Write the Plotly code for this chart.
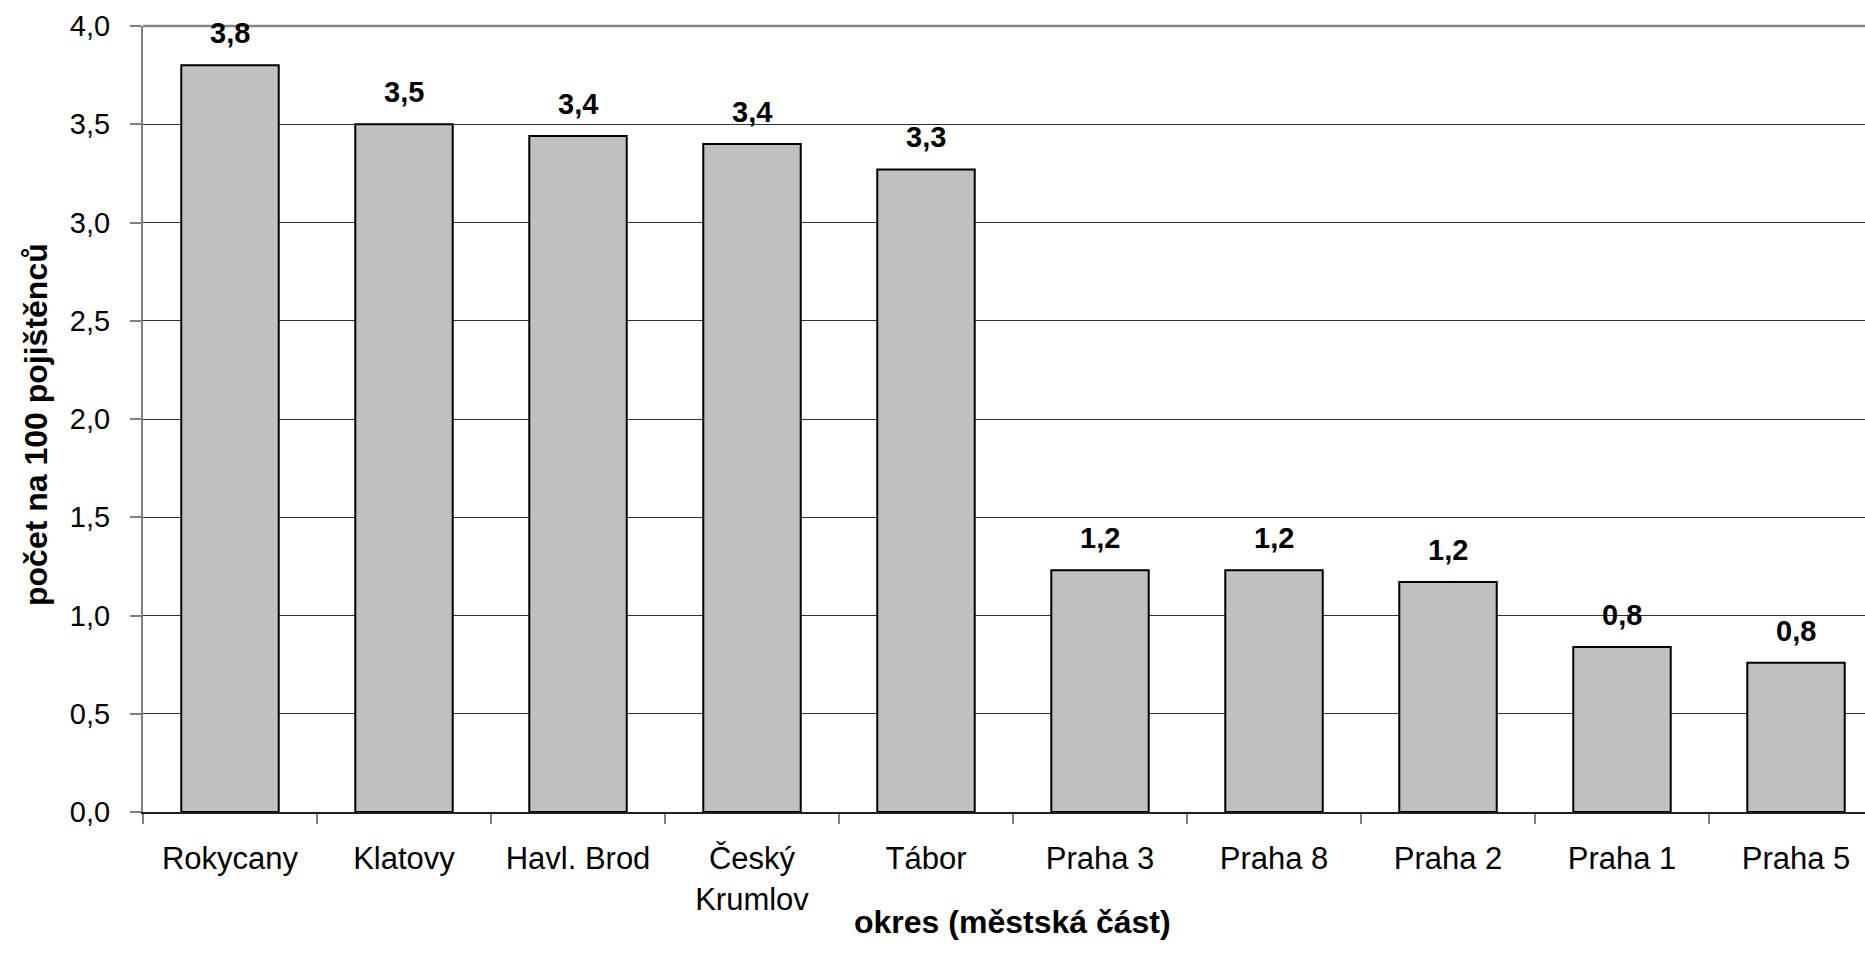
import plotly.graph_objects as go

# Districts (city parts) and rate per 100 insured persons
okresy = ["Rokycany", "Klatovy", "Havl. Brod", "Český<br>Krumlov", "Tábor",
          "Praha 3", "Praha 8", "Praha 2", "Praha 1", "Praha 5"]
pocet = [3.80, 3.50, 3.44, 3.40, 3.27, 1.23, 1.23, 1.17, 0.84, 0.76]

y_ticks = [0.0, 0.5, 1.0, 1.5, 2.0, 2.5, 3.0, 3.5, 4.0]

FONT = "Liberation Sans, Arial, sans-serif"

W, H = 1865, 973
M_L, M_R, M_T, M_B = 143, 0, 26, 161
CAT_PX = 174.0  # width of one category slot in pixels
plot_w = W - M_L - M_R
x_max = -0.5 + plot_w / CAT_PX

fig = go.Figure()
fig.add_trace(go.Bar(
    x=okresy, y=pocet, width=0.56,
    marker=dict(color="#C0C0C0", line=dict(color="#000000", width=2)),
    hoverinfo="skip",
))

# value labels above bars
for name, val in zip(okresy, pocet):
    fig.add_annotation(
        x=name, y=val, xref="x", yref="y",
        text=f"{val:.1f}".replace(".", ","),
        showarrow=False, yanchor="bottom", yshift=14,
        font=dict(family=FONT, size=29, color="#000000", weight="bold"),
    )

# axis titles
fig.add_annotation(
    x=(1013 - M_L) / plot_w, y=(812 - 922) / 786, xref="paper", yref="paper",
    text="okres (městská část)", showarrow=False,
    xanchor="center", yanchor="middle",
    font=dict(family=FONT, size=32, color="#000000", weight="bold"),
)
fig.add_annotation(
    x=(36 - M_L) / plot_w, y=(812 - 425) / 786, xref="paper", yref="paper",
    text="počet na 100 pojištěnců", showarrow=False, textangle=-90,
    xanchor="center", yanchor="middle",
    font=dict(family=FONT, size=32, color="#000000", weight="bold"),
)

# plot area top border
fig.add_shape(type="line", xref="paper", yref="paper", x0=0, x1=1, y0=1, y1=1,
              line=dict(color="#868686", width=2.5))

fig.update_layout(
    width=W, height=H,
    margin=dict(l=M_L, r=M_R, t=M_T, b=M_B, pad=0),
    paper_bgcolor="#FFFFFF", plot_bgcolor="#FFFFFF",
    separators=",.",
    showlegend=False,
    bargap=0.44,
    xaxis=dict(
        type="category", range=[-0.5, x_max],
        tickson="boundaries", ticks="outside", ticklen=10, tickwidth=1.5,
        tickcolor="#808080",
        showline=True, linecolor="#202020", linewidth=2,
        showgrid=False, zeroline=False,
        tickfont=dict(family=FONT, size=31, color="#000000"),
        ticklabelstandoff=18,
    ),
    yaxis=dict(
        range=[0, 4], tickvals=y_ticks, tickformat=".1f",
        ticks="outside", ticklen=11, tickwidth=1.5, tickcolor="#808080",
        showline=True, linecolor="#808080", linewidth=2,
        showgrid=True, gridcolor="#303030", gridwidth=1,
        zeroline=False,
        tickfont=dict(family=FONT, size=29, color="#000000"),
        ticklabelstandoff=14,
    ),
)

fig.write_html("out.html")
